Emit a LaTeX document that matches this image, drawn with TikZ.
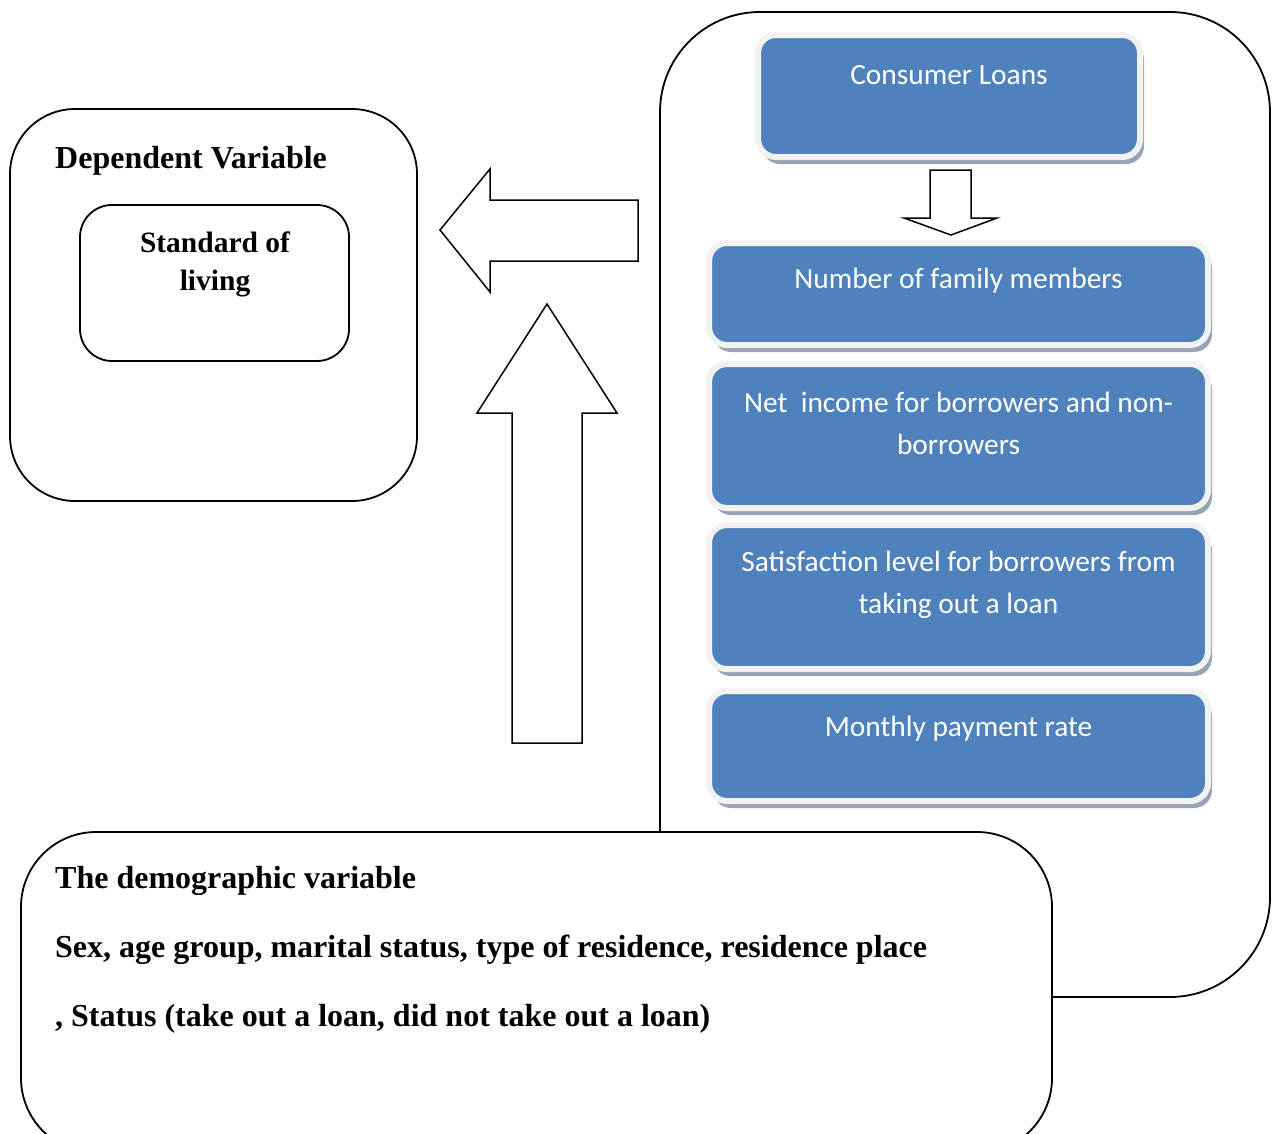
\documentclass[tikz,border=0pt]{standalone}
\usepackage{fontspec}
\setmainfont{Liberation Serif}
\newfontfamily\calibri{Carlito}
\usetikzlibrary{positioning,shadows}
\definecolor{loanblue}{HTML}{4F81BD}
\definecolor{framegray}{HTML}{F2F2F2}
\definecolor{shadowgray}{HTML}{98A4B6}

\begin{document}
\begin{tikzpicture}[x=1pt,y=-1pt,
  outline/.style={draw, line width=1.8pt, fill=white},
  loanbox/.style={draw=framegray, line width=6pt, fill=loanblue, rounded corners=18pt,
    drop shadow={shadow xshift=4pt, shadow yshift=-7pt, fill=shadowgray, opacity=1}},
  loantext/.style={text=white, font=\calibri\fontsize{29.4}{42}\selectfont, align=center},
  headtext/.style={font=\bfseries\fontsize{32}{69}\selectfont, anchor=base west, inner sep=0pt},
  blockarrow/.style={draw, line width=1.5pt, fill=white, line join=miter}]

\useasboundingbox (0,0) rectangle (1274,1133);
\clip (0,0) rectangle (1274,1133);

% independent variables frame
\draw[outline, rounded corners=100pt] (660,12) rectangle (1270,997);

% dependent variable
\draw[outline, rounded corners=65pt] (10,109) rectangle (417,501);
\node[headtext] (dep) at (55,168) {Dependent Variable};
\draw[outline, rounded corners=32pt] (80,205) rectangle (349,361);
\node[font=\bfseries\fontsize{29.5}{38}\selectfont, align=center, anchor=north] (living) at (215,228) {Standard of\\living};

% loan boxes
\node[loanbox, minimum width=382pt, minimum height=122pt] (loans) at (949,96) {};
\node[loantext] (loanstxt) at (949,75) {Consumer Loans};

\node[loanbox, minimum width=499pt, minimum height=102pt] (family) at (958.5,294) {};
\node[loantext] (familytxt) at (958.5,281) {Number of family members};

\node[loanbox, minimum width=499pt, minimum height=144pt] (income) at (958.5,436) {};
\node[loantext] (incometxt) at (958.5,423) {Net\ \ income for borrowers and non-\\borrowers};

\node[loanbox, minimum width=499pt, minimum height=144pt] (satis) at (958.5,597) {};
\node[loantext] (satistxt) at (958.5,585) {Satisfaction level for borrowers from\\taking out a loan};

\node[loanbox, minimum width=499pt, minimum height=110pt] (monthly) at (958.5,746) {};
\node[loantext] (monthlytxt) at (958.5,729) {Monthly payment rate};

% block arrows
\draw[blockarrow] (930,170) -- (971,170) -- (971,218) -- (997,218) -- (951,235) -- (904,218) -- (930,218) -- cycle;
\draw[blockarrow] (638,200) -- (490,200) -- (490,169) -- (440,230) -- (490,292) -- (490,261) -- (638,261) -- cycle;
\draw[blockarrow] (512,743) -- (512,413) -- (477,413) -- (547,304) -- (617,413) -- (582,413) -- (582,743) -- cycle;

% demographic variable
\draw[outline, rounded corners=75pt] (21,832) rectangle (1052,1153);
\node[headtext] (demo) at (55,888) {The demographic variable};
\node[headtext] (demolist) at (55,957) {Sex, age group, marital status, type of residence, residence place};
\node[headtext] (status) at (55,1026) {, Status (take out a loan, did not take out a loan)};

\end{tikzpicture}
\end{document}
